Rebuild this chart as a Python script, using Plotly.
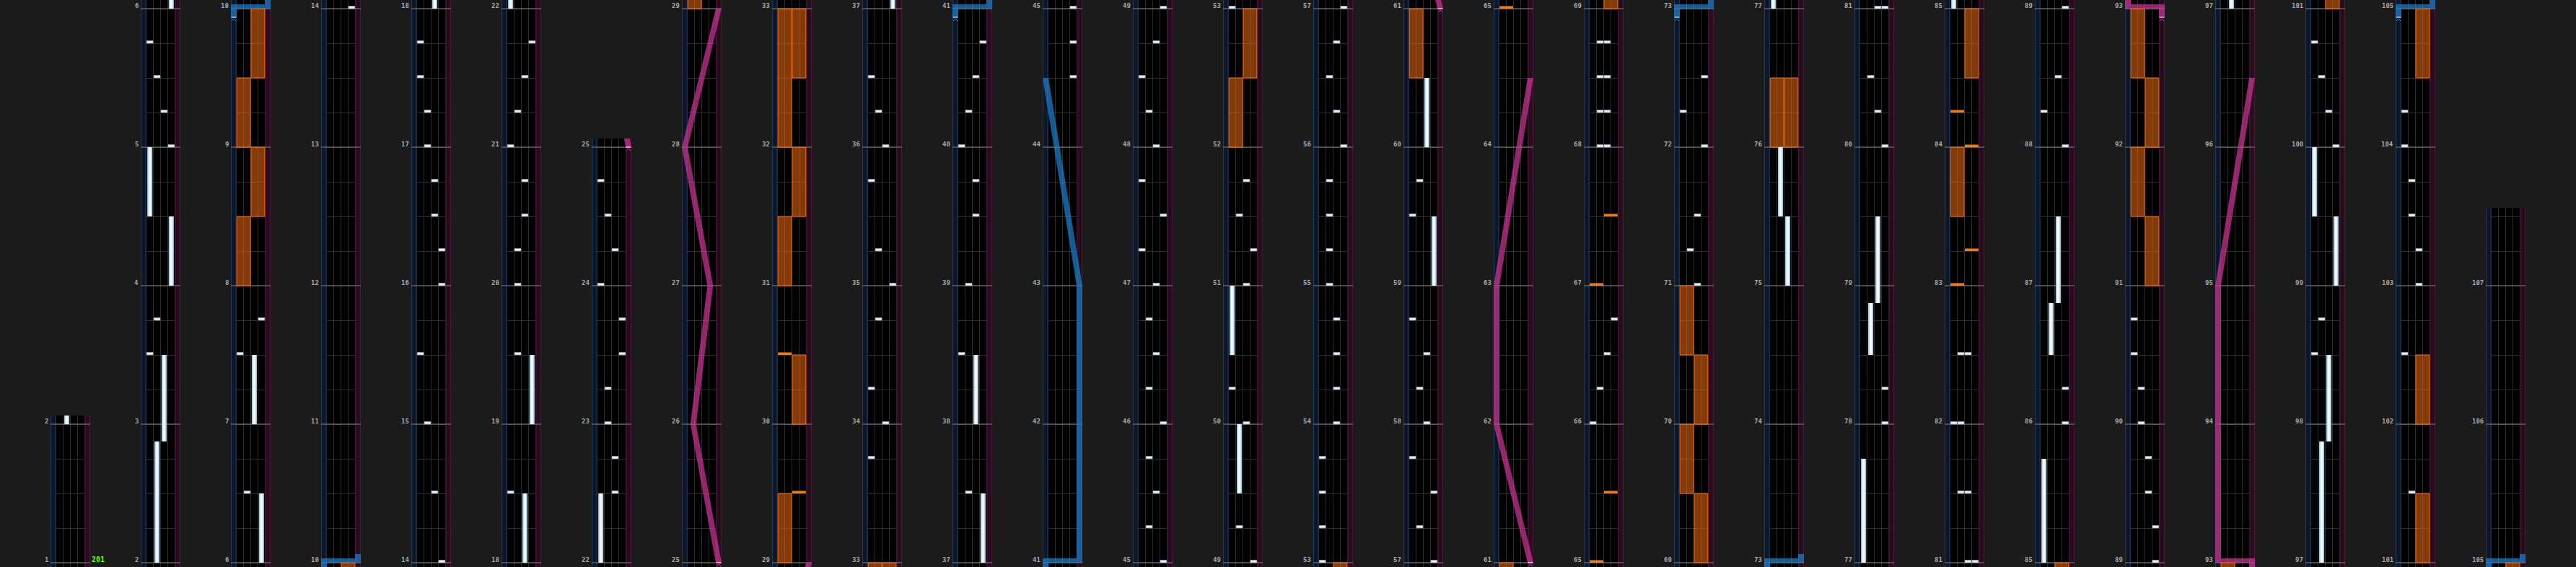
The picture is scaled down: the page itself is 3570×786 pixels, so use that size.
import plotly.graph_objects as go

# ---------------- data ----------------
# measure range shown in each column (bottom -> top)
COL_START = [1, 2, 6, 10, 14, 18, 22, 25, 29, 33, 37, 41, 45, 49, 53, 57, 61, 65, 69, 73, 77, 81, 85, 89, 93, 97, 101, 105]
COL_END = [2, 6, 10, 14, 18, 22, 25, 29, 33, 37, 41, 45, 49, 53, 57, 61, 65, 69, 73, 77, 81, 85, 89, 93, 97, 101, 105, 107.5]

# BT chips: (measure position, lane 0-3)
BT_CHIPS = [
    (3.5, 0), (3.75, 1), (5.0, 3), (5.25, 2), (5.5, 1), (5.75, 0),
    (6.5, 1), (7.5, 0), (7.75, 3),
    (14.0, 3), (14.5, 2), (15.0, 1), (15.5, 0), (16.0, 3), (16.25, 3), (16.5, 2), (16.75, 2),
    (17.0, 1), (17.25, 1), (17.5, 0), (17.75, 0),
    (18.5, 0), (19.5, 1), (20.0, 1), (20.25, 1), (20.5, 2), (20.75, 2), (21.0, 0), (21.25, 1), (21.5, 2), (21.75, 3),
    (22.5, 2), (22.75, 2), (23.0, 1), (23.25, 1), (23.5, 3), (23.75, 3), (24.0, 0), (24.25, 2), (24.5, 1), (24.75, 0),
    (33.75, 0), (34.0, 2), (34.25, 0), (34.75, 1), (35.0, 3), (35.25, 1), (35.75, 0), (36.0, 2), (36.25, 1), (36.5, 0),
    (37.5, 1), (38.5, 0), (39.0, 1), (39.5, 2), (39.75, 2), (40.0, 0), (40.25, 1), (40.5, 2), (40.75, 3),
    (44.5, 3), (44.75, 3), (45.0, 3),
    (45.25, 1), (45.5, 2), (45.75, 1), (46.0, 3), (46.25, 1), (46.5, 2), (46.75, 1), (47.0, 2),
    (47.25, 0), (47.5, 3), (47.75, 0), (48.0, 2), (48.25, 1), (48.5, 0), (48.75, 2), (49.0, 3),
    (49.25, 1), (50.0, 2), (50.25, 0), (51.0, 2), (51.25, 3), (51.5, 1), (51.75, 2), (53.0, 0),
    (53.25, 0), (53.5, 0), (53.75, 0), (54.0, 2), (54.25, 2), (54.5, 2), (54.75, 2), (55.0, 1), (55.25, 1),
    (55.5, 1), (55.75, 1), (56.0, 3), (56.25, 2), (56.5, 1), (56.75, 2), (57.0, 3),
    (57.25, 1), (57.5, 3), (57.75, 0), (58.0, 2), (58.25, 1), (58.5, 2), (58.75, 0), (59.5, 0), (59.75, 1),
    (66.0, 0), (66.25, 1), (66.5, 2), (66.75, 3), (68.0, 1), (68.0, 2), (68.25, 1), (68.25, 2),
    (68.5, 1), (68.5, 2), (68.75, 1), (68.75, 2),
    (71.0, 2), (71.25, 1), (71.5, 2), (72.0, 3), (72.25, 0), (72.5, 3),
    (78.0, 3), (78.25, 3), (80.0, 3), (80.25, 2), (80.5, 1), (81.0, 2), (81.0, 3),
    (81.5, 1), (81.5, 2), (82.0, 0), (82.0, 1), (82.5, 1), (82.5, 2),
    (86.0, 3), (86.25, 3), (88.0, 3), (88.25, 0), (88.5, 2), (89.0, 3),
    (89.25, 3), (89.5, 2), (89.75, 2), (90.0, 1), (90.25, 1), (90.5, 0), (90.75, 0),
    (98.5, 0), (98.75, 1), (100.0, 3), (100.25, 2), (100.5, 1), (100.75, 0),
    (101.5, 1), (102.5, 0), (103.0, 2), (103.25, 2), (103.5, 1), (103.75, 1), (104.0, 0), (104.25, 0),
]

# BT long notes: (start, end, lane)
BT_LONGS = [
    (2.0, 2.875, 1), (2.875, 3.5, 2), (4.0, 4.5, 3), (4.5, 5.0, 0), (6.0, 6.5, 3), (7.0, 7.5, 2),
    (18.0, 18.5, 2), (19.0, 19.5, 3), (22.0, 22.5, 0), (37.0, 37.5, 3), (38.0, 38.5, 2),
    (49.5, 50.0, 1), (50.5, 51.0, 0), (59.0, 59.5, 3), (60.0, 60.5, 2),
    (75.0, 75.5, 2), (75.5, 76.0, 1), (77.0, 77.75, 0), (78.5, 78.875, 1), (78.875, 79.5, 2),
    (85.0, 85.75, 0), (86.5, 86.875, 1), (86.875, 87.5, 2),
    (97.0, 97.875, 1), (97.875, 98.5, 2), (99.0, 99.5, 3), (99.5, 100.0, 0),
]

# FX chips: (measure, side 0=left pair 1=right pair)
FX_CHIPS = [(29.5, 1), (30.5, 0), (65.0, 0), (65.5, 1), (67.0, 0), (67.5, 1),
            (83.0, 0), (83.25, 1), (84.0, 1), (84.25, 0)]

# FX holds: (start, end, side)
FX_HOLDS = [
    (8.0, 8.5, 0), (8.5, 9.0, 1), (9.0, 9.5, 0), (9.5, 10.0, 1),
    (29.0, 29.5, 0), (30.0, 30.5, 1), (31.0, 31.5, 0), (31.5, 32.0, 1), (32.0, 33.0, 0), (32.5, 33.0, 1),
    (52.0, 52.5, 0), (52.5, 53.0, 1), (60.5, 61.0, 0),
    (69.0, 69.5, 1), (69.5, 70.0, 0), (70.0, 70.5, 1), (70.5, 71.0, 0),
    (76.0, 76.5, 0), (76.0, 76.5, 1), (83.5, 84.0, 0), (84.5, 85.0, 1),
    (91.0, 91.5, 1), (91.5, 92.0, 0), (92.0, 92.5, 1), (92.5, 93.0, 0),
    (101.0, 101.5, 1), (102.0, 102.5, 1), (104.5, 105.0, 1),
]

# lasers: list of (measure, position 0=left..1=right); equal measures = slam
LASER_LEFT = [
    [(9.9375, 0), (10.0, 0), (10.0, 1), (10.0625, 1)],
    [(40.9375, 0), (41.0, 0), (41.0, 1), (43.0, 1), (44.5, 0)],
    [(72.9375, 0), (73.0, 0), (73.0, 1), (73.0625, 1)],
    [(104.9375, 0), (105.0, 0), (105.0, 1), (105.0625, 1)],
]
LASER_RIGHT = [
    [(25.0, 1), (26.0, 0.25), (27.0, 0.75), (28.0, 0), (29.0, 1)],
    [(61.0, 1), (62.0, 0), (63.0, 0), (64.5, 1)],
    [(92.9375, 1), (93.0, 1), (93.0, 0), (95.0, 0), (96.5, 1)],
]

BPM_TEXT = "201"
BPM_MEASURE = 1

# ---------------- layout constants ----------------
FIG_W, FIG_H = 3570, 786
COL_X0, COL_PITCH, COL_W = 70, 125, 55
PXM = 192.0
PAD_TOP, PAD_BOT = 12.0, 6.0
LANE_PX = 9.9
SIDE = 7.7 / LANE_PX
LASER_HALF = 4.0 / LANE_PX
SLAM_H = 6.0 / PXM
CHIP_H = 3.5 / PXM

BG = "#1b1b1b"
GRID = "#2d2d2d"
LEFT_FILL, LEFT_EDGE = "#0d1628", "#1d3756"
RIGHT_FILL, RIGHT_EDGE = "#270c1d", "#4a1737"
MEASURE_LINE = "#858585"
LABEL_COLOR = "#a8a8a8"
BLUE = "rgba(28,128,205,0.72)"
PINK = "rgba(205,52,150,0.72)"
BLUE_MARK = "#2f7fc0"
PINK_MARK = "#c0459a"


def laser_x(v):
    return -SIDE + (4.0 + 47.0 * v) / LANE_PX


def rect(x0, x1, y0, y1):
    return [(x0, y0), (x1, y0), (x1, y1), (x0, y1)]


def poly_trace(polys, fill, xs, ys, line_color=None, line_width=0):
    X, Y = [], []
    for p in polys:
        for (a, b) in p:
            X.append(a)
            Y.append(b)
        X.append(p[0][0])
        Y.append(p[0][1])
        X.append(None)
        Y.append(None)
    return go.Scatter(x=X, y=Y, mode="lines", fill="toself", fillcolor=fill,
                      line=dict(color=line_color or "rgba(0,0,0,0)", width=line_width),
                      xaxis=xs, yaxis=ys, hoverinfo="skip", showlegend=False)


def line_trace(segs, color, width, xs, ys):
    X, Y = [], []
    for seg in segs:
        for (a, b) in seg:
            X.append(a)
            Y.append(b)
        X.append(None)
        Y.append(None)
    return go.Scatter(x=X, y=Y, mode="lines", line=dict(color=color, width=width),
                      xaxis=xs, yaxis=ys, hoverinfo="skip", showlegend=False)


def laser_polys(lasers, lo, hi):
    polys = []
    for pts in lasers:
        if pts[-1][0] < lo or pts[0][0] > hi:
            continue
        for i in range(len(pts) - 1):
            (m1, v1), (m2, v2) = pts[i], pts[i + 1]
            if m1 == m2:
                xa = min(laser_x(v1), laser_x(v2)) - LASER_HALF
                xb = max(laser_x(v1), laser_x(v2)) + LASER_HALF
                polys.append(rect(xa, xb, m1, m1 + SLAM_H))
            else:
                if i > 0 and pts[i - 1][0] == m1:
                    m1 = m1 + SLAM_H
                polys.append([(laser_x(v1) - LASER_HALF, m1), (laser_x(v1) + LASER_HALF, m1),
                              (laser_x(v2) + LASER_HALF, m2), (laser_x(v2) - LASER_HALF, m2)])
    return polys


traces = []
layout = {}
annotations = []

for c, (s, e) in enumerate(zip(COL_START, COL_END)):
    n = c + 1
    xs = "x" if n == 1 else "x%d" % n
    ys = "y" if n == 1 else "y%d" % n
    lo = s - PAD_BOT / PXM
    hi = e + PAD_TOP / PXM
    H = (e - s) * PXM + PAD_TOP + PAD_BOT
    x0 = COL_X0 + COL_PITCH * c
    layout["xaxis" if n == 1 else "xaxis%d" % n] = dict(
        domain=[x0 / FIG_W, (x0 + COL_W) / FIG_W], range=[-SIDE, 4 + SIDE], anchor=ys,
        tickvals=[0, 1, 2, 3, 4], showgrid=True, gridcolor=GRID, gridwidth=1,
        zeroline=False, showticklabels=False, ticks="", showline=False, fixedrange=True)
    layout["yaxis" if n == 1 else "yaxis%d" % n] = dict(
        domain=[0, H / FIG_H], range=[lo, hi], anchor=xs, tick0=0, dtick=0.25,
        showgrid=True, gridcolor=GRID, gridwidth=1, zeroline=False,
        showticklabels=False, ticks="", showline=False, fixedrange=True)

    # side strips
    traces.append(poly_trace([rect(-SIDE, 0, lo, hi)], LEFT_FILL, xs, ys))
    traces.append(poly_trace([rect(4, 4 + SIDE, lo, hi)], RIGHT_FILL, xs, ys))
    traces.append(line_trace([[(-SIDE + 0.06, lo), (-SIDE + 0.06, hi)], [(-0.06, lo), (-0.06, hi)]],
                             LEFT_EDGE, 1.2, xs, ys))
    traces.append(line_trace([[(4.06, lo), (4.06, hi)], [(4 + SIDE - 0.06, lo), (4 + SIDE - 0.06, hi)]],
                             RIGHT_EDGE, 1.2, xs, ys))

    # measure lines + labels
    measures = [m for m in range(int(s), int(e) + 1) if s <= m <= e]
    traces.append(line_trace([[(-SIDE, m), (4 + SIDE, m)] for m in measures], MEASURE_LINE, 1, xs, ys))
    for m in measures:
        annotations.append(dict(x=-SIDE, y=m, xref=xs, yref=ys, text=str(m), showarrow=False,
                                xanchor="right", yanchor="bottom", xshift=-1, yshift=-3,
                                font=dict(family="DejaVu Sans Mono", size=9, color=LABEL_COLOR,
                                          weight="bold")))

    # FX holds
    holds = [rect(2 * sd + 0.05, 2 * sd + 1.95, a, b) for (a, b, sd) in FX_HOLDS if b >= lo and a <= hi]
    if holds:
        traces.append(poly_trace(holds, "rgba(240,108,18,0.55)", xs, ys, "#ff6a00", 1))

    # BT longs
    longs = [(a, b, ln) for (a, b, ln) in BT_LONGS if b >= lo and a <= hi]
    if longs:
        traces.append(poly_trace([rect(ln + 0.14, ln + 0.86, a, b) for (a, b, ln) in longs], "#9fc6de", xs, ys))
        traces.append(poly_trace([rect(ln + 0.3, ln + 0.7, a, b) for (a, b, ln) in longs], "#f2f7fa", xs, ys))

    # BT chips
    chips = [rect(ln + 0.05, ln + 0.95, m, m + CHIP_H) for (m, ln) in BT_CHIPS if lo - 0.05 <= m <= hi]
    if chips:
        traces.append(poly_trace(chips, "#e9eff3", xs, ys, "#8aa0b1", 0.7))

    # FX chips
    fxc = [rect(2 * sd + 0.05, 2 * sd + 1.95, m, m + CHIP_H) for (m, sd) in FX_CHIPS if lo - 0.05 <= m <= hi]
    if fxc:
        traces.append(poly_trace(fxc, "#ff7708", xs, ys))

    # lasers
    for lasers, col, mark in ((LASER_LEFT, BLUE, BLUE_MARK), (LASER_RIGHT, PINK, PINK_MARK)):
        polys = laser_polys(lasers, lo, hi)
        if polys:
            traces.append(poly_trace(polys, col, xs, ys))
        starts = [pts[0] for pts in lasers if lo - 0.05 <= pts[0][0] <= hi]
        if starts:
            traces.append(line_trace([[(laser_x(v) - 0.35, m), (laser_x(v) + 0.35, m)] for (m, v) in starts],
                                     "#e8eef2", 1.2, xs, ys))
            traces.append(line_trace([[(laser_x(v) - 0.3, m - 5.0 / PXM), (laser_x(v), m - 1.8 / PXM),
                                       (laser_x(v) + 0.3, m - 5.0 / PXM)] for (m, v) in starts],
                                     mark, 1, xs, ys))

    if c == 0:
        annotations.append(dict(x=4 + SIDE, y=BPM_MEASURE, xref=xs, yref=ys, text=BPM_TEXT, showarrow=False,
                                xanchor="left", yanchor="bottom", xshift=0, yshift=-3,
                                font=dict(family="DejaVu Sans Mono", size=10, color="#62ff0a",
                                          weight="bold")))

fig = go.Figure(data=traces)
fig.update_layout(width=FIG_W, height=FIG_H, margin=dict(l=0, r=0, t=0, b=0),
                  paper_bgcolor=BG, plot_bgcolor="#000000", showlegend=False,
                  annotations=annotations, **layout)
PAGE_JS = ("document.body.style.margin='0';document.body.style.padding='0';"
           "document.body.style.overflow='hidden';document.body.style.background='%s';" % BG)
fig.write_html("out.html", post_script=PAGE_JS, config={"displayModeBar": False})
